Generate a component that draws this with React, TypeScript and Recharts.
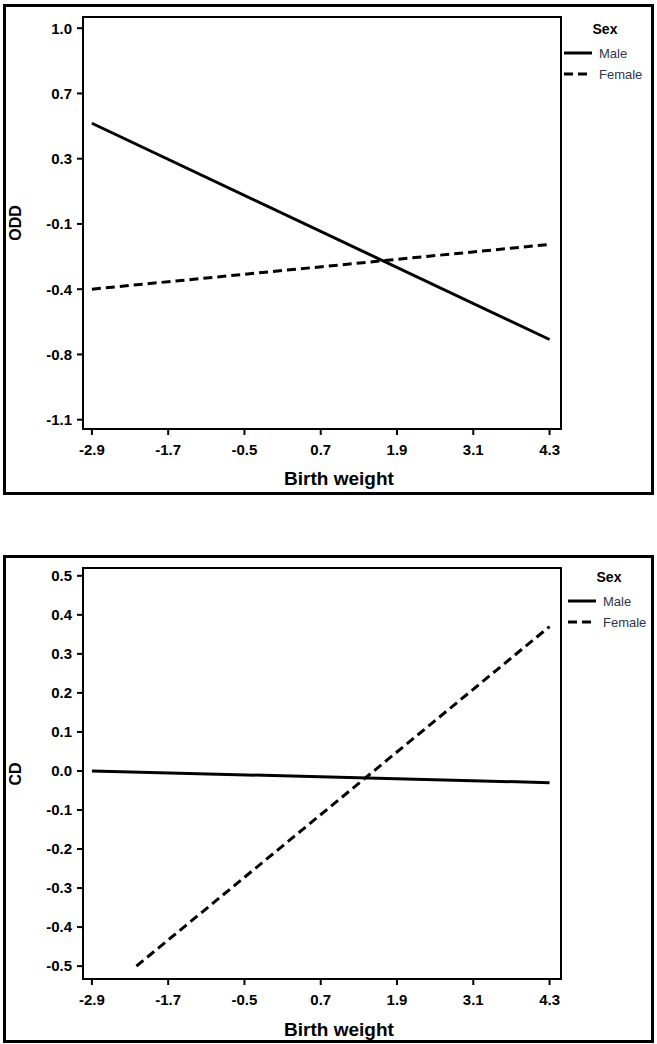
import { LineChart, Line, XAxis, YAxis, ReferenceArea } from "recharts";

// x positions shared by both panels
const birthWeightTicks = [-2.9, -1.7, -0.5, 0.7, 1.9, 3.1, 4.3];
const lineEndsX = [-2.9, 4.3];

// ODD panel
const oddTicks = [1.0, 0.65, 0.3, -0.05, -0.4, -0.75, -1.1];
const oddTickLabels = ["1.0", "0.7", "0.3", "-0.1", "-0.4", "-0.8", "-1.1"];
const oddMale = [0.49, -0.67];
const oddFemale = [-0.4, -0.16];

// CD panel
const cdTicks = [0.5, 0.4, 0.3, 0.2, 0.1, 0, -0.1, -0.2, -0.3, -0.4, -0.5];
const cdTickLabels = ["0.5", "0.4", "0.3", "0.2", "0.1", "0.0", "-0.1", "-0.2", "-0.3", "-0.4", "-0.5"];
const cdMale = [0.0, -0.03];
const cdFemaleX = [-2.2, 4.3];
const cdFemale = [-0.5, 0.37];

const xDomain: [number, number] = [-3.04, 4.48];
const oddDomain: [number, number] = [-1.15, 1.06];
const cdDomain: [number, number] = [-0.533, 0.52];

const FONT = "'Liberation Sans', Arial, sans-serif";
const NARROW = "'Liberation Sans Narrow', 'Arial Narrow', 'Liberation Sans', sans-serif";
const DASH = "9 5";

const toPoints = (xs: number[], ys: number[]) => xs.map((x, i) => ({ x, y: ys[i] }));

type PanelProps = {
  top: number;
  height: number;
  marginTop: number;
  marginBottom: number;
  yLabel: string;
  yLabelY: number;
  ticks: number[];
  tickLabels: string[];
  domain: [number, number];
  male: { x: number; y: number }[];
  female: { x: number; y: number }[];
  boxTop: number;
  boxHeight: number;
  titleTop: number;
  legendX: number;
  legendY: number;
};

function Legend({ x, y }: { x: number; y: number }) {
  const row = (label: string, dy: number, dash?: string) => (
    <div style={{ position: "absolute", left: x, top: y + dy - 8, height: 16, display: "flex", alignItems: "center" }}>
      <svg width={29} height={16} style={{ display: "block" }}>
        <line x1={0} y1={8} x2={28} y2={8} stroke="#000" strokeWidth={3} strokeDasharray={dash} />
      </svg>
      <span style={{ marginLeft: 6, fontFamily: FONT, fontSize: 13, color: "#33334a" }}>{label}</span>
    </div>
  );
  return (
    <>
      <div
        style={{
          position: "absolute",
          left: x + 21,
          top: y - 24 - 8,
          width: 40,
          textAlign: "center",
          fontFamily: FONT,
          fontWeight: "bold",
          fontSize: 14,
          lineHeight: "16px",
        }}
      >
        Sex
      </div>
      {row("Male", 0)}
      {row("Female", 21, DASH)}
    </>
  );
}

function Panel(p: PanelProps) {
  const fmt = (v: number) => p.tickLabels[p.ticks.indexOf(v)] ?? String(v);
  const tickStyle = { fill: "#000", fontSize: 15, fontWeight: "bold", fontFamily: NARROW };
  return (
    <>
      <div
        style={{
          position: "absolute",
          left: 3,
          top: p.boxTop,
          width: 651,
          height: p.boxHeight,
          border: "3px solid #000",
          boxSizing: "border-box",
        }}
      />
      <div style={{ position: "absolute", left: 0, top: p.top }}>
        <LineChart
          width={657}
          height={p.height}
          margin={{ top: p.marginTop, right: 96, bottom: p.marginBottom, left: 13 }}
        >
          <XAxis
            type="number"
            dataKey="x"
            domain={xDomain}
            allowDataOverflow
            ticks={birthWeightTicks}
            interval={0}
            height={50}
            tickSize={6}
            tickMargin={9}
            axisLine={{ stroke: "#000", strokeWidth: 2 }}
            tickLine={{ stroke: "#000", strokeWidth: 2 }}
            tick={tickStyle}
          />
          <YAxis
            type="number"
            domain={p.domain}
            allowDataOverflow
            ticks={p.ticks}
            interval={0}
            width={70}
            tickSize={6}
            tickMargin={5}
            tickFormatter={fmt}
            axisLine={{ stroke: "#000", strokeWidth: 2 }}
            tickLine={{ stroke: "#000", strokeWidth: 2 }}
            tick={tickStyle}
          />
          <ReferenceArea
            x1={xDomain[0]}
            x2={xDomain[1]}
            y1={p.domain[0]}
            y2={p.domain[1]}
            fill="none"
            fillOpacity={0}
            stroke="#000"
            strokeWidth={2}
            ifOverflow="visible"
          />
          <Line
            data={p.male}
            dataKey="y"
            stroke="#000"
            strokeWidth={3}
            dot={false}
            activeDot={false}
            isAnimationActive={false}
          />
          <Line
            data={p.female}
            dataKey="y"
            stroke="#000"
            strokeWidth={3}
            strokeDasharray={DASH}
            dot={false}
            activeDot={false}
            isAnimationActive={false}
          />
        </LineChart>
      </div>
      <div
        style={{
          position: "absolute",
          left: 16,
          top: p.yLabelY,
          transform: "translate(-50%, -50%) rotate(-90deg)",
          fontFamily: FONT,
          fontWeight: "bold",
          fontSize: 16,
          whiteSpace: "nowrap",
        }}
      >
        {p.yLabel}
      </div>
      <div
        style={{
          position: "absolute",
          left: 239,
          top: p.titleTop,
          width: 200,
          textAlign: "center",
          fontFamily: FONT,
          fontWeight: "bold",
          fontSize: 19,
          lineHeight: "19px",
        }}
      >
        Birth weight
      </div>
      <Legend x={p.legendX} y={p.legendY} />
    </>
  );
}

export default function App() {
  return (
    <div style={{ position: "absolute", left: 0, top: 0, width: 657, height: 1044, background: "#fff" }}>
      <Panel
        top={0}
        height={500}
        marginTop={17}
        marginBottom={21}
        yLabel="ODD"
        yLabelY={223}
        ticks={oddTicks}
        tickLabels={oddTickLabels}
        domain={oddDomain}
        male={toPoints(lineEndsX, oddMale)}
        female={toPoints(lineEndsX, oddFemale)}
        boxTop={4}
        boxHeight={491}
        titleTop={469}
        legendX={564}
        legendY={53}
      />
      <Panel
        top={550}
        height={494}
        marginTop={18}
        marginBottom={15}
        yLabel="CD"
        yLabelY={774}
        ticks={cdTicks}
        tickLabels={cdTickLabels}
        domain={cdDomain}
        male={toPoints(lineEndsX, cdMale)}
        female={toPoints(cdFemaleX, cdFemale)}
        boxTop={555}
        boxHeight={488}
        titleTop={1020}
        legendX={568}
        legendY={601}
      />
    </div>
  );
}
